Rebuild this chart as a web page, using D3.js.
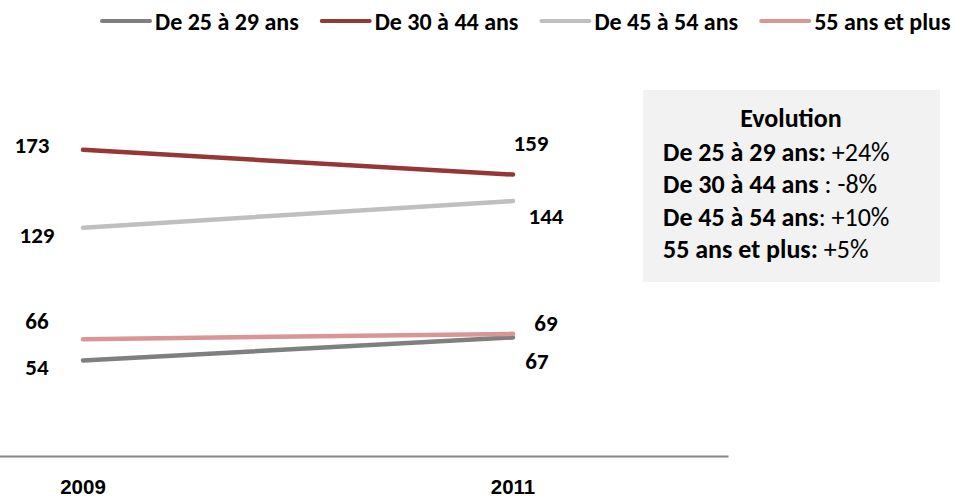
<!DOCTYPE html>
<html>
<head>
<meta charset="utf-8">
<script src="https://cdn.jsdelivr.net/npm/d3@7"></script>
<style>
  html, body { margin: 0; padding: 0; background: #ffffff; }
  svg { display: block; font-family: Carlito, Calibri, Lato, "Open Sans", sans-serif; }
</style>
</head>
<body>
<svg id="chart" width="955" height="499"></svg>
<script>
// Years on the category axis
const years = ["2009", "2011"];

// Age groups
const seriesNames = ["De 25 à 29 ans", "De 30 à 44 ans", "De 45 à 54 ans", "55 ans et plus"];

// Values per age group, one per year
const ages25to29 = [54, 67];
const ages30to44 = [173, 159];
const ages45to54 = [129, 144];
const ages55plus = [66, 69];

// Evolution summary lines (bold part, plain part)
const evolutionTitle = "Evolution";
const evolutionLabels = ["De 25 à 29 ans:", "De 30 à 44 ans", "De 45 à 54 ans", "55 ans et plus:"];
const evolutionValues = [" +24%", " : -8%", ": +10%", " +5%"];

const seriesValues = [ages25to29, ages30to44, ages45to54, ages55plus];
const colors = ["#7f7f7f", "#953735", "#bfbfbf", "#d99694"];

// Label offsets (dx, dy) from each point, [left point, right point]
const labelOffsets = [
  [[-46, 7], [24, 24]],
  [[-51, -5], [18, -32]],
  [[-46, 7], [33, 15]],
  [[-46, -18], [33, -11]]
];

const svg = d3.select("#chart");

const x = d3.scaleBand().domain(years).range([-132, 728]);
const y = d3.scaleLinear().domain([0, 200]).range([456, 102]);
const cx = d => x(d) + x.bandwidth() / 2;

// Category axis
const axis = svg.append("g")
  .attr("transform", `translate(0,${y(0)})`)
  .call(d3.axisBottom(x).tickSize(0).tickPadding(23));
axis.select(".domain").attr("stroke", "#868686").attr("stroke-width", 2);
axis.selectAll(".tick text")
  .attr("font-family", null)
  .attr("font-size", 20.5)
  .attr("font-weight", "bold")
  .attr("fill", "#000");

// Lines
const line = d3.line().x((d, i) => cx(years[i])).y(d => y(d));
const series = svg.append("g").selectAll("g")
  .data(seriesValues)
  .join("g");

series.append("path")
  .attr("d", d => line(d))
  .attr("fill", "none")
  .attr("stroke", (d, i) => colors[i])
  .attr("stroke-width", 4.5)
  .attr("stroke-linecap", "round");

// Data labels
series.each(function (vals, si) {
  d3.select(this).selectAll("text")
    .data(vals)
    .join("text")
    .attr("x", (v, i) => cx(years[i]) + labelOffsets[si][i][0])
    .attr("y", (v, i) => y(v) + labelOffsets[si][i][1])
    .attr("text-anchor", "middle")
    .attr("dominant-baseline", "central")
    .attr("font-size", 23)
    .attr("font-weight", "bold")
    .attr("fill", "#000")
    .text(v => v);
});

// Legend
const legend = svg.append("g").attr("transform", "translate(100,21)");
let lx = 0;
seriesNames.forEach((name, i) => {
  const g = legend.append("g").attr("transform", `translate(${lx},0)`);
  g.append("line")
    .attr("x1", 2).attr("x2", 50)
    .attr("y1", 0).attr("y2", 0)
    .attr("stroke", colors[i])
    .attr("stroke-width", 4)
    .attr("stroke-linecap", "round");
  const t = g.append("text")
    .attr("x", 55)
    .attr("y", 0)
    .attr("dominant-baseline", "central")
    .attr("font-size", 24)
    .attr("font-weight", "bold")
    .attr("fill", "#000")
    .text(name);
  lx += 55 + t.node().getComputedTextLength() + 21;
});

// Evolution box
const box = svg.append("g");
box.append("rect")
  .attr("x", 643).attr("y", 90)
  .attr("width", 297).attr("height", 192)
  .attr("fill", "#f2f2f2");
box.append("text")
  .attr("x", 791).attr("y", 118)
  .attr("text-anchor", "middle")
  .attr("dominant-baseline", "central")
  .attr("font-size", 26)
  .attr("font-weight", "bold")
  .attr("fill", "#000")
  .text(evolutionTitle);
evolutionLabels.forEach((lab, i) => {
  const t = box.append("text")
    .attr("x", 663).attr("y", 152 + i * 32.3)
    .attr("dominant-baseline", "central")
    .attr("font-size", 26)
    .attr("fill", "#000");
  t.append("tspan").attr("font-weight", "bold").text(lab);
  t.append("tspan").text(evolutionValues[i]);
});
</script>
</body>
</html>
